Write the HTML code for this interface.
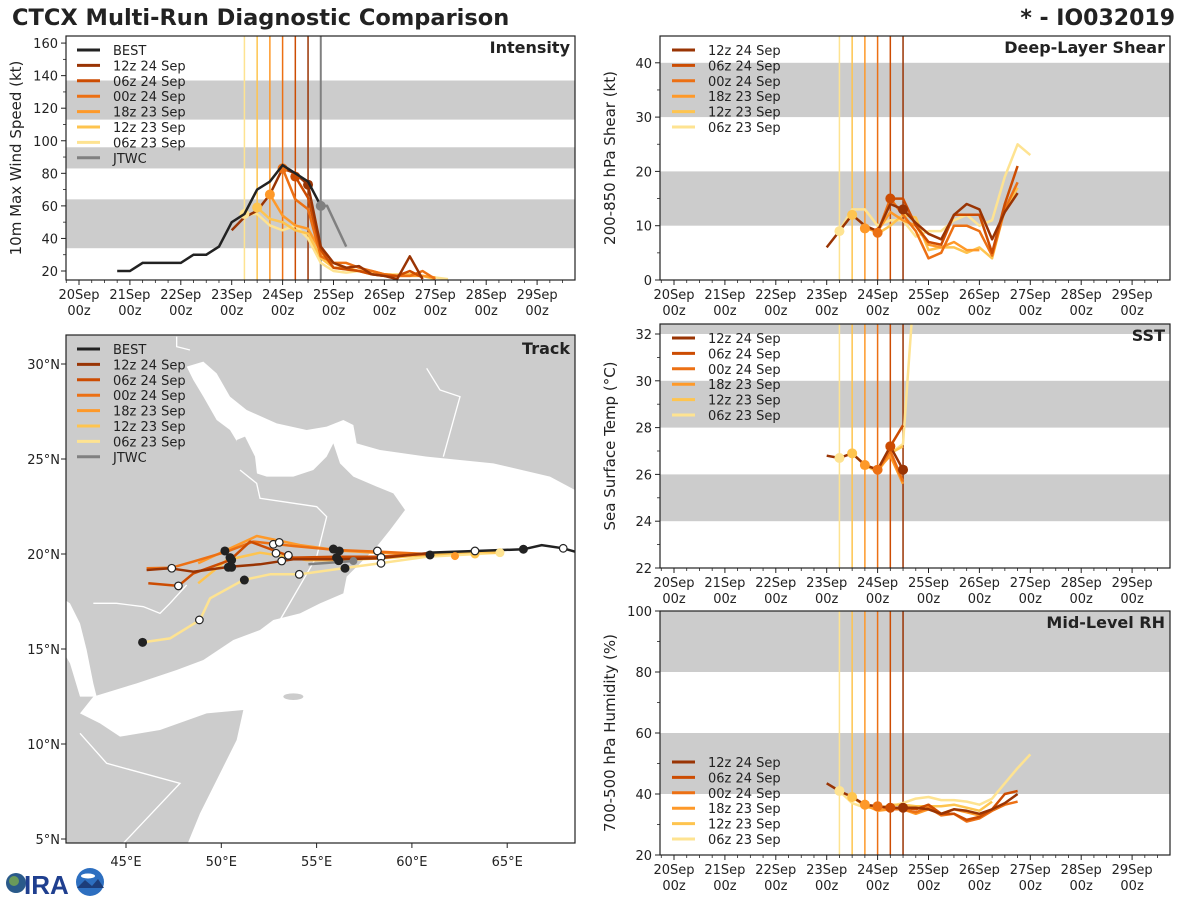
<!DOCTYPE html>
<html><head><meta charset="utf-8"><style>
html,body{margin:0;padding:0;background:#fff;}
svg{display:block;font-family:"DejaVu Sans","Liberation Sans",sans-serif;}
</style></head><body>
<svg id="c" width="1200" height="900" viewBox="0 0 1200 900" xmlns="http://www.w3.org/2000/svg">
<rect width="1200" height="900" fill="#fff"/>
<text x="12" y="25" font-size="22.5" font-weight="bold" fill="#222">CTCX Multi-Run Diagnostic Comparison</text>
<text x="1175" y="25" font-size="22" font-weight="bold" fill="#222" text-anchor="end">* - IO032019</text>
<defs>
<clipPath id="cpI"><rect x="66" y="36" width="509" height="244"/></clipPath>
<clipPath id="cpS"><rect x="660" y="36" width="510" height="244"/></clipPath>
<clipPath id="cpT"><rect x="660" y="324" width="510" height="244"/></clipPath>
<clipPath id="cpR"><rect x="660" y="611" width="510" height="244"/></clipPath>
<clipPath id="cpM"><rect x="66" y="335" width="509" height="508"/></clipPath>
</defs>
<g id="root"></g>
<g>
<circle cx="16" cy="883" r="10" fill="#2a5a8a"/><circle cx="14" cy="881" r="5" fill="#6a9a5a"/>
<text x="24" y="894" font-size="26" font-weight="bold" fill="#1f3f8f" font-family="Liberation Sans,sans-serif">IRA</text>
<circle cx="90" cy="882" r="14" fill="#2d6fc0"/><path d="M77 888 L85 880 L92 886 L98 879 L104 888 Z" fill="#1c3d7a"/>
<ellipse cx="88" cy="876" rx="7" ry="2.5" fill="#fff"/>
</g>
</svg>
<script>
// ---------------- DATA ----------------
const runNames = ["12z 24 Sep","06z 24 Sep","00z 24 Sep","18z 23 Sep","12z 23 Sep","06z 23 Sep"];
const runColors = ["#993404","#cc4c02","#ec7014","#fe9929","#fec44f","#fee391"];
const runInit = [4.5,4.25,4.0,3.75,3.5,3.25]; // days since 20 Sep 00z
const dayLabels = ["20Sep","21Sep","22Sep","23Sep","24Sep","25Sep","26Sep","27Sep","28Sep","29Sep"];

// Intensity (kt), 6-hourly from start time
const bestStart = 0.75;
const bestVmax = [20,20,25,25,25,25,30,30,35,50,55,70,75,85,80,75,60];
const jtwcT = [4.75,4.875,5.25];
const jtwcVmax = [60,60,35];
const intStart = [3.0,4.25,4.0,3.75,3.5,3.25];
const intVals = [
 [45,53,57,67,83,80,73,35,25,22,23,18,17,15,29,15],
 [78,65,33,22,21,20,18,17,17,20,16],
 [83,64,58,29,25,25,22,20,18,17,17,20,15],
 [67,54,48,46,32,22,22,20,20,18,17,17,17,16],
 [59,52,50,45,43,28,22,21,20,18,17,17,18,17,15],
 [55,55,48,45,48,40,25,20,19,20,19,18,18,18,17,16,15]
];
// Shear (kt)
const shrStart = [3.0,4.25,4.0,3.75,3.5,3.25];
const shrVals = [
 [6,9,12,10,9,14,13,10.5,8.5,7.5,12,14,13,7.5,12.5,16],
 [15,15,10,7,6.5,12,12,12,5,14,21],
 [8.7,15,12,9,4,5,10,10,9,4.5,13,18],
 [9.5,9,12.5,11,10,6.5,6,7,5.5,5.5],
 [12,10,8.5,10,12,11.5,5.5,6,6,5,6,4,13,17],
 [9,13,13,10,11,11,8,9,9,11,12,10,11,19,25,23]
];
// SST (C)
const sstStart = [3.0,4.25,4.0,3.75,3.5,3.25];
const sstVals = [
 [26.8,26.7,26.9,26.4,26.2,27.2,26.2],
 [27.2,28.1],
 [26.2,27.0,25.7],
 [26.4,26.2,26.8,25.6],
 [26.9,26.4,26.1,26.9,27.2],
 [26.7,26.9,26.4,26.2,26.9,27.3,35]
];
// RH (%)
const rhStart = [3.0,4.25,4.0,3.75,3.5,3.25];
const rhVals = [
 [43.5,41,39,36.5,36,35.5,35.5,35.5,35,33.5,35,34.5,33.5,35,37,40],
 [35.5,35.5,35,36.5,33.5,33.5,31.5,32.5,35,40,41],
 [36,35,35,34,35.5,33,33.5,31,32,34.5,36.5,37.5],
 [36.5,34.5,35,35,33.5,35,33.5,35,34,33,35],
 [39,36,35,36.5,36.5,36,36,36,36.5,35.5,34.5,37.5],
 [41,37,35.5,35.5,36,37,38.5,39,38,38,37.5,36.5,38.5,43.5,48.5,53]
];
// Tracks (lon E, lat N)
const bestLon = [68.56,67.94,66.81,65.85,63.31,60.77];
const bestLat = [20.12,20.30,20.47,20.25,20.16,20.07];
const jtwcLon = [56.93,54.57];
const jtwcLat = [19.63,19.46];
const trkLon = [
 [60.77,58.15,56.05,53.78,52.03,50.46,48.53,47.31,46.08],
 [60.77,58.15,56.05,53.78,51.51,50.46,48.53,47.75,46.17],
 [60.77,58.33,56.05,53.78,51.68,50.28,48.53,47.40,46.08],
 [60.77,58.15,56.23,54.13,51.86,50.28,48.79],
 [64.62,63.31,60.77,58.33,56.23,54.48,53.43,52.03,50.28,48.79],
 [64.62,60.77,58.33,56.40,54.13,52.56,51.16,49.41,48.88,47.31,45.87]
];
const trkLat = [
 [20.04,19.77,19.72,19.72,19.46,19.33,19.07,19.25,19.16],
 [20.0,19.86,19.86,19.81,20.65,19.68,18.98,18.32,18.46],
 [20.0,20.12,20.21,20.42,20.65,20.12,19.60,19.28,19.25],
 [20.0,20.07,20.18,20.47,20.95,20.21,19.51],
 [20.07,20.12,19.95,19.77,19.68,19.68,19.86,20.07,19.68,18.46],
 [20.07,19.86,19.51,19.25,18.93,18.93,18.63,17.67,16.53,15.56,15.35]
];
const filledLon = [50.19,50.46,50.54,50.37,50.54,55.88,56.19,56.05,56.16,56.49,51.21,45.87,60.95,65.85];
const filledLat = [20.16,19.81,19.68,19.30,19.30,20.26,20.16,19.81,19.65,19.25,18.63,15.35,19.95,20.25];
const openLon = [47.40,47.75,48.85,52.73,53.04,52.87,53.52,53.17,54.09,58.19,58.38,58.38,63.31,67.94];
const openLat = [19.25,18.32,16.53,20.51,20.61,20.04,19.93,19.63,18.93,20.16,19.82,19.51,20.16,20.30];

// ---------------- SCALES ----------------
const xI = t => 79 + t*50.9;
const xR = t => 674 + t*50.9;
const yI = v => 271 - (v-20)*1.628;
const yS = v => 280 - v*5.43;
const yT = v => 568 - (v-22)*23.4;
const yH = v => 855 - (v-20)*3.05;
const lonX = l => 126 + (l-45)*19.06;
const latY = l => 554 - (l-20)*19;

const NS="http://www.w3.org/2000/svg";
const root=document.getElementById('root');
function mk(tag,attrs,parent){const e=document.createElementNS(NS,tag);for(const k in attrs)e.setAttribute(k,attrs[k]);(parent||root).appendChild(e);return e;}
function txt(x,y,s,size,parent,anchor,extra){const e=mk('text',Object.assign({x:x,y:y,'font-size':size,fill:'#222','text-anchor':anchor||'start'},extra||{}),parent);e.textContent=s;return e;}
function ptsStr(xs,ys){return xs.map((x,i)=>x.toFixed(1)+','+ys[i].toFixed(1)).join(' ');}

// ---------- generic time panel ----------
function timePanel(name,x0,y0,w,h,xf,yf,vmin,vmax,bands,major,minor,ylabel,clip,title){
  const g=mk('g',{});
  
  
  mk('rect',{x:x0,y:y0,width:w,height:h,fill:'#fff'},g);
  const bg=mk('g',{'clip-path':'url(#'+clip+')'},g);
  bands.forEach(b=>{const r=mk('rect',{x:x0,y:yf(b[1]),width:w,height:yf(b[0])-yf(b[1]),fill:'#cccccc'},bg);
    
    });
  for(let d=0;d<10;d++){
    const x=xf(d);
    mk('line',{x1:x,y1:y0+h,x2:x,y2:y0+h+5,stroke:'#222','stroke-width':1},g);
    const t1=txt(x,y0+h+19,dayLabels[d],13,g,'middle');
    
    
    txt(x,y0+h+35,'00z',13,g,'middle');
    for(let m=1;m<4;m++){const xm=xf(d+m*0.25);if(xm<x0+w)mk('line',{x1:xm,y1:y0+h,x2:xm,y2:y0+h+3,stroke:'#222','stroke-width':0.8},g);}
  }
  mk('line',{x1:xf(-0.25),y1:y0+h,x2:xf(-0.25),y2:y0+h+3,stroke:'#222','stroke-width':0.8},g);
  major.forEach(v=>{const y=yf(v);mk('line',{x1:x0-5,y1:y,x2:x0,y2:y,stroke:'#222'},g);
    const t=txt(x0-8,y+5,String(v),13,g,'end');
    
    });
  minor.forEach(v=>{const y=yf(v);if(y>=y0&&y<=y0+h)mk('line',{x1:x0-3,y1:y,x2:x0,y2:y,stroke:'#222','stroke-width':0.8},g);});
  const yl=txt(0,0,ylabel,15,g,'middle',{transform:'translate('+(x0-45)+','+(y0+h/2)+') rotate(-90)'});
  
  
  const pt=txt(x0+w-5,y0+17,title,16,g,'end',{'font-weight':'bold'});
  
  
  return {g:g,bg:bg};
}
function legend(g,x,y,names,colors){
  names.forEach((n,i)=>{const yy=y+i*15.4;
    const l=mk('line',{x1:x,y1:yy,x2:x+23,y2:yy,stroke:colors[i],'stroke-width':3},g);
    
    
    const t=txt(x+36,yy+5,n,13,g);
    
    });
}
function series(bg,xf,yf,starts,vals){
  for(let i=5;i>=0;i--){
    const xs=vals[i].map((v,k)=>xf(starts[i]+k*0.25)), ys=vals[i].map(v=>yf(v));
    const p=mk('polyline',{points:ptsStr(xs,ys),fill:'none',stroke:runColors[i],'stroke-width':2.5,'stroke-linejoin':'round'},bg);
    
    
  }
  for(let i=5;i>=0;i--){
    const k=Math.round((runInit[i]-starts[i])/0.25);
    const c=mk('circle',{cx:xf(runInit[i]),cy:yf(vals[i][k]),r:5,fill:runColors[i]},bg);
    
    
  }
}
function initLines(bg,xf,y0,h,withJ){
  for(let i=5;i>=0;i--){const x=xf(runInit[i]);
    const l=mk('line',{x1:x,y1:y0,x2:x,y2:y0+h,stroke:runColors[i],'stroke-width':1.5},bg);
    
    }
  if(withJ){const x=xf(4.75);mk('line',{x1:x,y1:y0,x2:x,y2:y0+h,stroke:'#808080','stroke-width':2},bg);}
}
function frame(g,x0,y0,w,h){mk('rect',{x:x0,y:y0,width:w,height:h,fill:'none',stroke:'#222','stroke-width':1.2},g);}

// ---- Intensity ----
let P=timePanel('intensity',66,36,509,244,xI,yI,15,165,[[34,64],[83,96],[113,137]],[20,40,60,80,100,120,140,160],[30,50,70,90,110,130,150],'10m Max Wind Speed (kt)','cpI','Intensity');
initLines(P.bg,xI,36,244,true);
series(P.bg,xI,yI,intStart,intVals);
{const bp=mk('polyline',{points:ptsStr(bestVmax.map((v,k)=>xI(bestStart+k*0.25)),bestVmax.map(yI)),fill:'none',stroke:'#222','stroke-width':2.5},P.bg);
 
 
 const jp=mk('polyline',{points:ptsStr(jtwcT.map(xI),jtwcVmax.map(yI)),fill:'none',stroke:'#808080','stroke-width':2.5},P.bg);
 
 
 mk('circle',{cx:xI(jtwcT[0]),cy:yI(jtwcVmax[0]),r:5,fill:'#808080'},P.bg);}
legend(P.g,77,50,["BEST"].concat(runNames,["JTWC"]),["#222"].concat(runColors,["#808080"]));
frame(P.g,66,36,509,244);

// ---- Shear ----
P=timePanel('shear',660,36,510,244,xR,yS,0,45,[[10,20],[30,40]],[0,10,20,30,40],[5,15,25,35,45],'200-850 hPa Shear (kt)','cpS','Deep-Layer Shear');
initLines(P.bg,xR,36,244,false);
series(P.bg,xR,yS,shrStart,shrVals);
legend(P.g,672,50,runNames,runColors);
frame(P.g,660,36,510,244);

// ---- SST ----
P=timePanel('sst',660,324,510,244,xR,yT,22,32.4,[[24,26],[28,30],[32,33]],[22,24,26,28,30,32],[23,25,27,29,31],'Sea Surface Temp (°C)','cpT','SST');
initLines(P.bg,xR,324,244,false);
series(P.bg,xR,yT,sstStart,sstVals);
legend(P.g,672,338,runNames,runColors);
frame(P.g,660,324,510,244);

// ---- RH ----
P=timePanel('rh',660,611,510,244,xR,yH,20,100,[[40,60],[80,100]],[20,40,60,80,100],[30,50,70,90],'700-500 hPa Humidity (%)','cpR','Mid-Level RH');
initLines(P.bg,xR,611,244,false);
series(P.bg,xR,yH,rhStart,rhVals);
legend(P.g,672,762,runNames,runColors);
frame(P.g,660,611,510,244);

// ---- Track map ----
const mg=mk('g',{});


mk('rect',{x:66,y:335,width:509,height:508,fill:'#cccccc'},mg);
const mc=mk('g',{'clip-path':'url(#cpM)'},mg);
const geo=mk('g',{transform:'translate(60 330) scale(0.33333)'},mc);
const water=mk('polygon',{fill:'#fff',points:"380,110 430,95 470,130 510,200 560,240 650,280 740,300 800,290 850,270 880,285 890,340 960,360 1100,380 1300,400 1470,440 1545,480 1560,480 1560,1560 375,1560 420,1450 480,1330 530,1230 550,1140 440,1150 300,1200 180,1220 120,1180 60,1150 100,1100 230,1060 350,1020 430,990 520,930 600,900 640,870 720,850 780,820 850,790 860,740 900,700 950,650 990,600 1035,540 1000,490 950,470 880,440 840,400 820,340 800,380 760,420 700,440 620,440 560,420 540,350 510,300 470,270 430,200 400,150"},geo);


mk('polygon',{fill:'#cccccc',points:"530,330 555,320 585,380 592,440 560,440 540,400"},geo);
mk('polygon',{fill:'#fff',points:"0,800 30,820 60,880 80,960 100,1060 110,1100 60,1100 30,1000 0,950"},geo);
mk('ellipse',{cx:700,cy:1100,rx:30,ry:10,fill:'#cccccc'},geo);
mk('polyline',{fill:'none',stroke:'#fff','stroke-width':4,points:"540,420 590,460 600,505 770,530 800,560 770,680 660,870"},geo);
mk('polyline',{fill:'none',stroke:'#fff','stroke-width':4,points:"350,20 350,50 390,60"},geo);
mk('polyline',{fill:'none',stroke:'#fff','stroke-width':4,points:"1100,115 1140,180 1200,200 1150,380"},geo);
mk('polyline',{fill:'none',stroke:'#fff','stroke-width':4,points:"60,1210 140,1300 360,1360 190,1540"},geo);
mk('polyline',{fill:'none',stroke:'#fff','stroke-width':4,points:"380,765 330,820 300,850 250,830 170,820 100,820"},geo);
for(let i=5;i>=0;i--){
  const p=mk('polyline',{points:ptsStr(trkLon[i].map(lonX),trkLat[i].map(latY)),fill:'none',stroke:runColors[i],'stroke-width':2.5,'stroke-linejoin':'round'},mc);
  
  
}
{const j=mk('polyline',{points:ptsStr(jtwcLon.map(lonX),jtwcLat.map(latY)),fill:'none',stroke:'#808080','stroke-width':2.5},mc);
 
 
 mk('circle',{cx:lonX(jtwcLon[0]),cy:latY(jtwcLat[0]),r:4,fill:'#808080'},mc);
 const b=mk('polyline',{points:ptsStr(bestLon.map(lonX),bestLat.map(latY)),fill:'none',stroke:'#222','stroke-width':2.5},mc);
 
 }
mk('circle',{cx:lonX(64.62),cy:latY(20.07),r:4.5,fill:'#fee391'},mc);
mk('circle',{cx:lonX(63.31),cy:latY(20.0),r:4.5,fill:'#fec44f'},mc);
mk('circle',{cx:lonX(62.26),cy:latY(19.89),r:4,fill:'#fe9929'},mc);
filledLon.forEach((l,i)=>{const c=mk('circle',{cx:lonX(l),cy:latY(filledLat[i]),r:4.5,fill:'#222'},mc);
  
  });
openLon.forEach((l,i)=>{const c=mk('circle',{cx:lonX(l),cy:latY(openLat[i]),r:3.8,fill:'#fff',stroke:'#222','stroke-width':1.2},mc);
  
  });
[45,50,55,60,65].forEach(l=>{const x=lonX(l);mk('line',{x1:x,y1:843,x2:x,y2:848,stroke:'#222'},mg);
  const t=txt(x,866,l+'°E',13,mg,'middle');
  
  });
[30,25,20,15,10,5].forEach(l=>{const y=latY(l);mk('line',{x1:61,y1:y,x2:66,y2:y,stroke:'#222'},mg);
  const t=txt(60,y+5,l+'°N',13,mg,'end');
  
  });
const tt=txt(570,354,'Track',16,mg,'end',{'font-weight':'bold'});


legend(mg,77,349,["BEST"].concat(runNames,["JTWC"]),["#222"].concat(runColors,["#808080"]));
frame(mg,66,335,509,508);
</script>
</body></html>
